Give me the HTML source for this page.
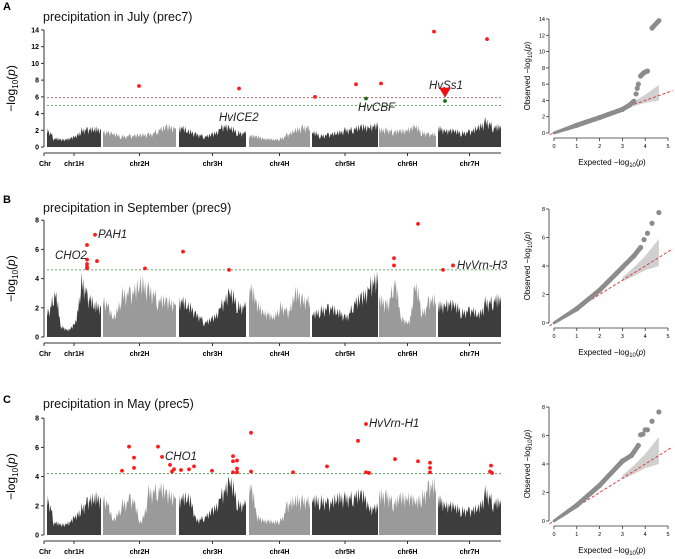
<!DOCTYPE html>
<html><head><meta charset="utf-8">
<style>
body{margin:0;background:#fff;}
svg{display:block;font-family:"Liberation Sans",sans-serif;}
</style></head>
<body>
<svg id="fig" width="675" height="559" viewBox="0 0 675 559"></svg>
<script>
// ---- data ----
const chrNames = ["chr1H","chr2H","chr3H","chr4H","chr5H","chr6H","chr7H"];
const chrStarts = [0,56,132,202,265,332,391];
const chrLengths = [54,73,67,61,66,57,63];
// envelope of dense SNP cloud (-log10 p per bin), 8 bins per chromosome
const envA = [[2.3,1.2,1.0,1.2,1.4,2.4,2.5,2.5],[2.2,1.8,1.5,1.6,1.7,1.8,2.5,2.8],[2.8,2.2,1.8,1.5,1.8,3.0,2.6,2.0],[1.6,1.4,1.2,1.0,1.2,1.8,2.4,2.8],[2.0,1.6,1.8,2.0,2.4,2.6,2.8,3.0],[2.4,2.4,2.2,2.2,2.6,2.8,2.0,1.8],[2.6,2.4,2.2,2.0,2.2,2.8,3.6,2.8]];
const envB = [[2.0,3.6,0.8,0.6,1.0,4.5,3.2,2.5],[3.0,1.5,3.5,3.6,4.3,3.8,3.0,2.8],[3.0,2.5,1.8,1.2,1.5,2.8,3.5,2.5],[4.0,2.5,2.0,1.5,2.5,2.0,3.6,3.0],[1.8,2.2,2.4,2.0,1.6,2.8,3.2,4.5],[3.0,2.6,4.5,1.5,1.2,4.0,2.0,3.0],[2.5,2.8,2.5,2.0,2.2,1.8,2.8,3.0]];
const envC = [[2.8,1.0,0.8,1.0,1.4,2.2,2.8,3.0],[3.0,1.2,2.5,3.0,1.0,3.5,3.8,3.2],[3.0,3.0,1.2,1.5,2.0,3.5,4.2,2.5],[4.0,1.4,1.2,1.0,1.2,2.5,2.8,2.8],[2.8,2.8,2.6,3.0,3.0,3.2,3.2,2.2],[3.2,3.2,2.6,3.0,3.2,2.6,3.2,4.0],[2.8,2.5,2.2,2.0,2.0,2.2,3.4,2.6]];
// significant SNPs: cumulative position, -log10 p
const sigPosA = [92,192,268,309,334,387,440];
const sigValA = [7.3,7.0,6.0,7.5,7.6,13.8,12.9];
const greenPosA = [319,398];
const greenValA = [5.8,5.5];
const sigPosB = [40,40,40,40,40,48,50,98,136,182,347,347,371,396,406];
const sigValB = [6.3,5.3,5.0,4.8,4.7,7.0,5.2,4.7,5.85,4.6,5.4,4.9,7.75,4.6,4.9];
const sigPosC = [75,82,87,87,111,115,123,125,127,134,142,147,165,186,186,190,190,186,190,204,204,246,280,311,319,319,322,348,371,383,383,383,444,443,445];
const sigValC = [4.4,6.05,5.3,4.6,6.05,5.35,4.8,4.35,4.5,4.45,4.5,4.7,4.4,5.4,5.05,5.1,4.55,4.3,4.3,7.0,4.35,4.3,4.7,6.45,7.6,4.3,4.25,5.2,5.05,4.95,4.6,4.3,4.75,4.35,4.25];
// QQ
const qqExpA = [0,1,2,3,3.3,3.5,3.6,3.65,3.7,3.8,3.9,4.0,4.1,4.3,4.6];
const qqObsA = [0,0.95,1.9,2.9,3.4,3.9,4.8,5.5,6.0,7.0,7.3,7.5,7.6,12.9,13.8];
const qqExpB = [0,1,2,3,3.5,3.8,3.95,4.1,4.3,4.6];
const qqObsB = [0,1.0,2.3,3.9,4.7,5.3,5.85,6.3,7.0,7.75];
const qqExpC = [0,1,2,3,3.4,3.7,3.8,3.9,4.0,4.1,4.3,4.6];
const qqObsC = [0,1.1,2.5,4.2,4.6,5.3,6.05,6.1,6.4,6.4,7.0,7.65];
const bandExp = [3.0,3.5,4.0,4.6];
const bandUp = [3.2,3.9,4.7,5.9];
const bandLo = [2.9,3.3,3.7,4.0];

const NS="http://www.w3.org/2000/svg";
const svg=document.getElementById('fig');
function mk(tag,attrs,parent,name,inter){const e=document.createElementNS(NS,tag);for(const k in attrs)e.setAttribute(k,attrs[k]);


(parent||svg).appendChild(e);return e;}
function txt(x,y,s,attrs,name,parent){const t=mk('text',Object.assign({x:x,y:y},attrs),parent,name,false);t.textContent=s;return t;}
// purely visual jaggedness pattern for the dense cloud top edge
const jag=[1,0.72,0.93,0.6,0.88,0.78,0.97,0.66];

function manhattan(cfg){
  const g=mk('g',{},svg,cfg.id+'-manhattan',false);
  const X=p=>47+p;
  const Y=v=>cfg.y0-v*cfg.k;
  txt(3,cfg.letterY,cfg.letter,{'font-size':11,'font-weight':'bold'},'panel-letter',g);
  txt(43,cfg.titleY,cfg.title,{'font-size':12.5,fill:'#111'},'panel-title',g);
  mk('line',{x1:44,x2:44,y1:Y(0),y2:Y(cfg.ymax),stroke:'#333','stroke-width':1},g,'y-axis',false);
  for(let v=0;v<=cfg.ymax;v+=2){
    mk('line',{x1:41,x2:44,y1:Y(v),y2:Y(v),stroke:'#333'},g,'y-tick',false);
    txt(39,Y(v)+2.5,String(v),{'font-size':7,'font-weight':'bold','text-anchor':'end'},'y-tick-label',g);
  }
  const yl=txt(0,0,'',{'font-size':12,'text-anchor':'middle',transform:`translate(15,${(Y(0)+Y(cfg.ymax))/2}) rotate(-90)`},'y-axis-title',g);
  yl.innerHTML='−log<tspan font-size="8" dy="3">10</tspan><tspan dy="-3">(</tspan><tspan font-style="italic">p</tspan>)';
  const ay=Y(0)+6;
  mk('line',{x1:44,x2:501,y1:ay,y2:ay,stroke:'#333'},g,'x-axis',false);
  mk('line',{x1:44,x2:44,y1:ay,y2:ay+3,stroke:'#333'},g,'x-tick',false);
  txt(45,ay+13,'Chr',{'font-size':7,'font-weight':'bold','text-anchor':'middle'},'chr-axis-label',g);
  chrNames.forEach((n,i)=>{
    const c=X(chrStarts[i]+chrLengths[i]/2);
    mk('line',{x1:c,x2:c,y1:ay,y2:ay+3,stroke:'#333'},g,'x-tick',false);
    txt(c,ay+13,n,{'font-size':7,'font-weight':'bold','text-anchor':'middle'},'chr-label-'+n,g);
    const env=cfg.env[i];const nb=env.length;const w=chrLengths[i]/nb;
    let pts=[[X(chrStarts[i]),Y(0)]];
    env.forEach((v,b)=>{
      const nxt=b<nb-1?env[b+1]:v;
      for(let s=0;s<8;s++){const t=s/8;const base=v+(nxt-v)*t*t;
        pts.push([X(chrStarts[i]+(b+t)*w),Y(base*jag[(s+b*3+i)%8])]);}
    });
    pts.push([X(chrStarts[i]+chrLengths[i]),Y(env[nb-1]*0.8)]);
    pts.push([X(chrStarts[i]+chrLengths[i]),Y(0)]);
    mk('polygon',{points:pts.map(p=>p.map(q=>q.toFixed(1)).join(',')).join(' '),fill:i%2?'#9a9a9a':'#3d3d3d'},g,'snp-cloud-'+n,false);
  });
  cfg.thr.forEach(t=>mk('line',{x1:47,x2:501,y1:Y(t.v),y2:Y(t.v),stroke:t.c,'stroke-width':0.8,'stroke-dasharray':'2,2'},g,'threshold-line',false));
  cfg.sigPos.forEach((p,j)=>mk('circle',{cx:X(p),cy:Y(cfg.sigVal[j]),r:1.9,fill:'#ff1a1a'},g,'significant-snp',false));
  (cfg.gPos||[]).forEach((p,j)=>mk('circle',{cx:X(p),cy:Y(cfg.gVal[j]),r:1.9,fill:'#1a6b1a'},g,'suggestive-snp',false));
  cfg.labels.forEach(l=>txt(l[0],l[1],l[2],{'font-size':11.5,'font-style':'italic',fill:'#222'},'gene-label',g));
  return {X,Y,g};
}

const A=manhattan({id:'a',letter:'A',letterY:10,title:'precipitation in July (prec7)',titleY:21,y0:147,k:8.36,ymax:14,env:envA,
  thr:[{v:5.9,c:'#b05050'},{v:4.95,c:'#3a8a3a'}],sigPos:sigPosA,sigVal:sigValA,gPos:greenPosA,gVal:greenValA,
  labels:[[219,121,'HvICE2'],[358,111,'HvCBF'],[429,89,'HvSs1']]});
mk('polygon',{points:`${A.X(392)},${A.Y(7.1)} ${A.X(404)},${A.Y(7.1)} ${A.X(398)},${A.Y(5.9)}`,fill:'#ee1111'},A.g,'hvss1-marker',false);
manhattan({id:'b',letter:'B',letterY:203,title:'precipitation in September (prec9)',titleY:212,y0:337,k:14.6,ymax:8,env:envB,
  thr:[{v:4.6,c:'#3a8a3a'}],sigPos:sigPosB,sigVal:sigValB,
  labels:[[98,238,'PAH1'],[55,259,'CHO2'],[457,269,'HvVrn-H3']]});
manhattan({id:'c',letter:'C',letterY:403,title:'precipitation in May (prec5)',titleY:408,y0:535,k:14.6,ymax:8,env:envC,
  thr:[{v:4.2,c:'#3a8a3a'}],sigPos:sigPosC,sigVal:sigValC,
  labels:[[165,460,'CHO1'],[369,427,'HvVrn-H1']]});

function qq(cfg){
  const g=mk('g',{},svg,cfg.id+'-qq-plot',false);
  const X=v=>554+v*22.8;
  const Y=v=>cfg.y0-v*cfg.k;
  mk('line',{x1:549,x2:549,y1:Y(0),y2:Y(cfg.ymax),stroke:'#333','stroke-width':0.8},g,'qq-y-axis',false);
  for(let v=0;v<=cfg.ymax;v+=2){
    mk('line',{x1:546,x2:549,y1:Y(v),y2:Y(v),stroke:'#333','stroke-width':0.8},g,'qq-y-tick',false);
    txt(545,Y(v)+2,String(v),{'font-size':5.5,'text-anchor':'end'},'qq-y-tick-label',g);
  }
  const ax=cfg.y0+5;
  mk('line',{x1:X(0),x2:X(5),y1:ax,y2:ax,stroke:'#333','stroke-width':0.8},g,'qq-x-axis',false);
  for(let v=0;v<=5;v++){
    mk('line',{x1:X(v),x2:X(v),y1:ax,y2:ax+3,stroke:'#333','stroke-width':0.8},g,'qq-x-tick',false);
    txt(X(v),ax+10,String(v),{'font-size':5.5,'text-anchor':'middle'},'qq-x-tick-label',g);
  }
  const xl=txt(612,ax+27,'',{'font-size':8,'text-anchor':'middle'},'qq-x-axis-title',g);
  xl.innerHTML='Expected  −log<tspan font-size="6" dy="2">10</tspan><tspan dy="-2">(</tspan><tspan font-style="italic">p</tspan>)';
  const yl=txt(0,0,'',{'font-size':8,'text-anchor':'middle',transform:`translate(530,${(Y(0)+Y(cfg.ymax))/2}) rotate(-90)`},'qq-y-axis-title',g);
  yl.innerHTML='Observed  −log<tspan font-size="6" dy="2">10</tspan><tspan dy="-2">(</tspan><tspan font-style="italic">p</tspan>)';
  let band=bandExp.map((e,i)=>X(e)+','+Y(bandUp[i])).concat(bandExp.slice().reverse().map((e,i)=>X(e)+','+Y(bandLo[bandLo.length-1-i])));
  mk('polygon',{points:band.join(' '),fill:'#d0d0d0'},g,'confidence-band',false);
  mk('line',{x1:X(-0.2),y1:Y(-0.2),x2:X(5.2),y2:Y(5.2),stroke:'#e03030','stroke-width':0.9,'stroke-dasharray':'3,2'},g,'expected-line',false);
  for(let i=0;i<cfg.e.length;i++){
    const de=i>0?cfg.e[i]-cfg.e[i-1]:0, dob=i>0?cfg.o[i]-cfg.o[i-1]:0;
    const jump=i>0 && (dob>3*de+0.3 || i>cfg.dense);
    if(i>0 && !jump){
      const n=Math.ceil(Math.hypot(de*22.8,dob*cfg.k)/1.2);
      for(let s=1;s<n;s++){const t=s/n;
        mk('circle',{cx:X(cfg.e[i-1]+t*de),cy:Y(cfg.o[i-1]+t*dob),r:i<2?1.4+t:2.4,fill:'#8c8c8c'},g,'qq-point',false);}
    }
    mk('circle',{cx:X(cfg.e[i]),cy:Y(cfg.o[i]),r:i<1?1.4:2.6,fill:'#8c8c8c'},g,'qq-point',false);
  }
}
qq({id:'a',y0:133,k:8.14,ymax:14,e:qqExpA,o:qqObsA,dense:99});
qq({id:'b',y0:323,k:14.25,ymax:8,e:qqExpB,o:qqObsB,dense:5});
qq({id:'c',y0:521,k:14.25,ymax:8,e:qqExpC,o:qqObsC,dense:5});
</script>
</body></html>
